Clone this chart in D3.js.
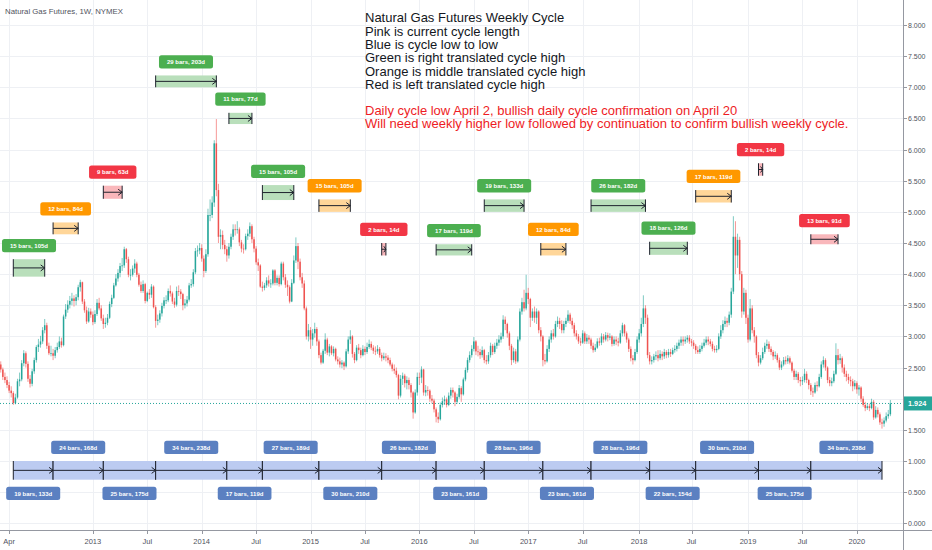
<!DOCTYPE html>
<html><head><meta charset="utf-8">
<script src="https://cdn.jsdelivr.net/npm/d3@7"></script>
<style>
html,body{margin:0;padding:0;background:#fff;}
svg{display:block;font-family:"Liberation Sans",Arial,sans-serif;}
</style></head><body>
<svg id="chart" width="932" height="550"></svg>
<script>
// ---- weekly candles (NYMEX natural gas) ----
const firstOpen = 2.55;
const close2012=[2.47,2.35,2.30,2.22,2.13,2.09,1.93,2.02,2.28,2.31,2.57,2.73,2.56,2.32,2.24,2.44,2.62,2.83,2.87,2.92,3.10,3.18,2.85,2.73,2.73,2.69,2.78,2.83,2.92,2.86,3.32,3.43,3.51,3.57,3.61,3.57,3.63,3.79,3.87,3.56,3.42,3.24,3.40,3.35];
const high2012=[2.60,2.50,2.42,2.36,2.27,2.20,2.12,2.08,2.32,2.42,2.62,2.78,2.76,2.60,2.38,2.48,2.66,2.86,2.96,3.01,3.15,3.28,3.22,2.90,2.85,2.80,2.83,2.90,3.00,2.98,3.35,3.52,3.58,3.65,3.70,3.66,3.68,3.83,3.91,3.88,3.60,3.48,3.46,3.45];
const low2012=[2.42,2.30,2.25,2.17,2.09,2.02,1.90,1.91,2.00,2.20,2.28,2.52,2.50,2.27,2.18,2.20,2.40,2.58,2.75,2.82,2.88,3.05,2.80,2.70,2.68,2.62,2.65,2.74,2.80,2.82,2.84,3.28,3.38,3.45,3.50,3.48,3.50,3.58,3.72,3.52,3.38,3.20,3.22,3.30];
const close2013=[3.23,3.36,3.54,3.45,3.29,3.20,3.22,3.30,3.52,3.62,3.82,3.93,4.02,4.13,4.14,4.40,4.24,3.99,3.99,4.09,4.17,3.99,3.83,3.73,3.84,3.57,3.70,3.67,3.80,3.47,3.25,3.27,3.37,3.49,3.58,3.58,3.73,3.69,3.56,3.51,3.73,3.72,3.68,3.50,3.53,3.59,3.82,3.84,4.03,4.37,4.38,4.42];
const high2013=[3.40,3.42,3.60,3.62,3.50,3.35,3.30,3.36,3.56,3.67,3.86,4.00,4.08,4.18,4.26,4.44,4.42,4.28,4.08,4.14,4.24,4.20,4.02,3.88,3.90,3.86,3.72,3.76,3.84,3.82,3.50,3.35,3.42,3.54,3.63,3.66,3.77,3.82,3.72,3.62,3.80,3.82,3.76,3.70,3.60,3.65,3.86,3.92,4.08,4.42,4.46,4.50];
const low2013=[3.18,3.20,3.33,3.42,3.25,3.12,3.14,3.18,3.28,3.47,3.60,3.80,3.88,3.95,4.05,4.10,4.18,3.95,3.90,3.96,4.02,3.95,3.80,3.70,3.70,3.53,3.55,3.60,3.62,3.45,3.14,3.18,3.22,3.32,3.45,3.52,3.55,3.64,3.52,3.46,3.48,3.65,3.60,3.42,3.45,3.48,3.56,3.78,3.80,4.00,4.28,4.32];
const close2014=[4.25,4.05,4.32,4.95,4.95,5.15,6.10,5.35,4.60,4.63,4.47,4.40,4.30,4.44,4.60,4.72,4.71,4.72,4.51,4.41,4.40,4.61,4.65,4.77,4.56,4.41,4.19,4.14,3.80,3.78,3.82,3.90,3.85,3.85,4.06,3.86,3.94,3.84,4.17,3.95,3.83,3.79,3.56,3.86,4.22,4.45,4.20,3.95,3.85,3.45,3.00,3.10];
const high2014=[4.48,4.30,4.40,5.05,5.20,5.25,6.15,6.49,5.45,4.72,4.70,4.55,4.45,4.50,4.65,4.80,4.80,4.85,4.75,4.55,4.48,4.65,4.72,4.83,4.80,4.60,4.45,4.25,4.16,3.88,3.86,3.95,3.98,3.92,4.08,4.08,3.98,3.98,4.20,4.20,4.00,3.90,3.82,3.92,4.30,4.59,4.50,4.25,4.02,3.90,3.48,3.20];
const low2014=[4.20,3.95,4.02,4.28,4.85,4.90,5.08,5.25,4.50,4.40,4.40,4.32,4.20,4.25,4.40,4.55,4.62,4.65,4.45,4.35,4.33,4.38,4.55,4.60,4.50,4.35,4.15,4.05,3.78,3.72,3.74,3.78,3.80,3.78,3.82,3.82,3.82,3.80,3.82,3.90,3.78,3.65,3.53,3.55,3.84,4.18,4.08,3.90,3.78,3.42,2.95,2.92];
const close2015=[2.95,3.05,3.12,2.92,2.70,2.58,2.77,2.95,2.74,2.84,2.73,2.80,2.63,2.60,2.55,2.58,2.52,2.76,2.95,3.00,2.72,2.62,2.82,2.78,2.70,2.80,2.75,2.83,2.88,2.82,2.77,2.76,2.80,2.70,2.65,2.68,2.66,2.62,2.55,2.48,2.45,2.38,2.05,2.32,2.37,2.25,2.30,2.22,2.10,1.78,2.10,2.35];
const high2015=[3.15,3.12,3.22,3.15,2.95,2.74,2.80,3.05,2.98,2.88,2.86,2.84,2.82,2.68,2.66,2.62,2.60,2.80,3.00,3.10,3.02,2.75,2.86,2.88,2.82,2.86,2.84,2.90,2.95,2.92,2.86,2.84,2.86,2.83,2.74,2.74,2.73,2.70,2.66,2.58,2.55,2.50,2.40,2.38,2.42,2.40,2.36,2.34,2.25,2.12,2.15,2.42];
const low2015=[2.80,2.85,2.98,2.85,2.65,2.55,2.56,2.72,2.70,2.68,2.70,2.68,2.60,2.55,2.50,2.49,2.46,2.50,2.72,2.88,2.66,2.57,2.60,2.72,2.65,2.68,2.70,2.72,2.80,2.78,2.72,2.70,2.72,2.66,2.60,2.62,2.60,2.57,2.52,2.44,2.40,2.34,1.99,2.02,2.22,2.18,2.15,2.15,2.02,1.68,1.76,2.05];
const close2016=[2.34,2.47,2.10,2.14,2.13,2.00,1.97,1.83,1.71,1.67,1.90,1.96,1.99,1.90,2.05,2.14,2.10,1.95,2.03,2.17,2.07,2.31,2.46,2.62,2.70,2.80,2.92,2.76,2.75,2.70,2.78,2.62,2.60,2.70,2.85,2.75,2.85,2.90,2.95,3.00,3.27,3.20,3.05,2.85,2.62,2.76,2.60,2.95,3.40,3.55,3.45,3.70,3.60];
const high2016=[2.42,2.52,2.48,2.22,2.20,2.15,2.06,2.00,1.86,1.78,1.94,2.02,2.05,2.02,2.10,2.18,2.18,2.12,2.08,2.22,2.20,2.34,2.50,2.66,2.76,2.86,2.99,2.94,2.85,2.80,2.84,2.80,2.70,2.75,2.90,2.88,2.90,2.96,3.02,3.06,3.34,3.32,3.22,3.08,2.88,2.82,2.80,3.00,3.45,3.62,3.75,3.99,3.78];
const low2016=[2.22,2.25,2.05,2.04,2.05,1.95,1.92,1.78,1.62,1.61,1.65,1.86,1.90,1.86,1.88,2.00,2.02,1.88,1.92,2.00,1.95,2.05,2.28,2.42,2.58,2.66,2.76,2.70,2.68,2.64,2.66,2.57,2.55,2.56,2.66,2.70,2.72,2.80,2.85,2.90,2.96,3.10,2.98,2.78,2.54,2.58,2.56,2.58,2.92,3.35,3.40,3.42,3.52];
const close2017=[3.30,3.40,3.30,3.40,3.10,3.00,2.62,2.60,2.80,2.95,3.05,3.00,3.20,3.25,3.20,3.10,3.20,3.25,3.35,3.25,3.18,3.05,3.00,2.92,2.90,3.05,2.92,2.98,2.95,2.85,2.78,2.82,2.92,2.90,3.00,2.95,3.02,2.98,3.00,2.88,2.95,2.92,2.90,3.05,3.18,3.05,2.95,2.80,2.65,2.62,2.75,2.95];
const high2017=[3.62,3.45,3.48,3.45,3.42,3.15,3.02,2.72,2.86,3.00,3.10,3.12,3.25,3.32,3.30,3.26,3.25,3.30,3.42,3.38,3.30,3.22,3.10,3.04,2.98,3.10,3.08,3.04,3.02,2.98,2.90,2.88,2.97,2.98,3.05,3.04,3.07,3.06,3.05,3.02,3.00,3.00,2.98,3.10,3.22,3.20,3.08,2.98,2.84,2.70,2.80,3.00];
const low2017=[3.15,3.25,3.22,3.20,3.05,2.92,2.52,2.55,2.58,2.75,2.90,2.95,2.98,3.15,3.12,3.05,3.05,3.15,3.22,3.20,3.12,3.00,2.95,2.88,2.85,2.88,2.88,2.88,2.88,2.80,2.74,2.75,2.80,2.85,2.86,2.90,2.92,2.92,2.94,2.84,2.85,2.86,2.84,2.88,3.00,3.00,2.90,2.75,2.60,2.55,2.60,2.72];
const close2018=[3.05,3.20,3.45,3.30,2.70,2.60,2.62,2.68,2.70,2.65,2.72,2.68,2.75,2.70,2.75,2.72,2.78,2.80,2.85,2.90,2.95,2.92,2.95,2.98,2.92,2.90,2.85,2.78,2.75,2.80,2.85,2.90,2.95,2.92,2.88,2.80,2.78,2.80,3.00,3.10,3.20,3.25,3.22,3.35,3.72,4.60,4.30,4.55,4.00,3.40,3.70,3.30];
const high2018=[3.12,3.30,3.66,3.50,3.35,2.75,2.68,2.72,2.76,2.78,2.78,2.76,2.80,2.78,2.80,2.80,2.82,2.86,2.90,2.95,3.00,3.00,3.00,3.02,3.02,2.96,2.94,2.88,2.84,2.86,2.90,2.96,3.00,3.00,2.96,2.92,2.85,2.86,3.05,3.18,3.26,3.32,3.30,3.40,3.78,4.93,4.85,4.65,4.60,4.05,3.78,3.75];
const low2018=[2.90,3.00,3.15,3.20,2.65,2.55,2.55,2.58,2.62,2.60,2.62,2.62,2.64,2.65,2.66,2.67,2.70,2.74,2.76,2.80,2.85,2.85,2.88,2.90,2.88,2.84,2.80,2.72,2.72,2.72,2.76,2.82,2.86,2.86,2.84,2.76,2.74,2.74,2.78,2.96,3.05,3.15,3.15,3.18,3.30,3.68,4.00,4.10,3.90,3.30,3.35,3.20];
const close2019=[2.95,3.45,3.10,3.00,2.70,2.58,2.65,2.75,2.85,2.88,2.80,2.75,2.68,2.70,2.62,2.50,2.55,2.62,2.60,2.65,2.58,2.45,2.35,2.40,2.30,2.28,2.30,2.40,2.30,2.22,2.12,2.10,2.22,2.20,2.35,2.55,2.62,2.50,2.30,2.25,2.28,2.40,2.70,2.62,2.65,2.50,2.40,2.35,2.30,2.28,2.20,2.25];
const high2019=[3.35,3.60,3.50,3.15,3.02,2.75,2.70,2.82,2.90,2.95,2.92,2.84,2.78,2.76,2.73,2.66,2.60,2.67,2.68,2.70,2.68,2.60,2.48,2.45,2.43,2.35,2.36,2.48,2.44,2.32,2.25,2.18,2.26,2.28,2.40,2.60,2.68,2.65,2.52,2.35,2.34,2.45,2.89,2.80,2.72,2.68,2.55,2.45,2.40,2.36,2.32,2.30];
const low2019=[2.90,2.92,3.05,2.90,2.65,2.52,2.55,2.62,2.72,2.80,2.75,2.70,2.62,2.64,2.58,2.46,2.46,2.52,2.55,2.56,2.55,2.42,2.30,2.30,2.25,2.20,2.22,2.26,2.25,2.15,2.06,2.03,2.08,2.12,2.18,2.32,2.50,2.45,2.25,2.20,2.20,2.25,2.38,2.55,2.56,2.42,2.35,2.28,2.24,2.20,2.12,2.15];
const close2020=[2.15,2.18,2.00,1.90,1.85,1.88,1.85,1.95,1.70,1.82,1.75,1.62,1.60,1.65,1.72,1.75,1.924];
const high2020=[2.28,2.22,2.20,2.04,1.95,1.93,1.92,2.00,1.98,1.88,1.86,1.78,1.68,1.70,1.78,1.82,1.98];
const low2020=[2.08,2.05,1.95,1.87,1.80,1.82,1.80,1.83,1.66,1.68,1.70,1.58,1.52,1.55,1.62,1.68,1.72];
const firstWeek = "2012-02-27";
const lastPrice = 1.924;

// ---- axis ticks ----
const priceTicks=[0,0.5,1,1.5,2,2.5,3,3.5,4,4.5,5,5.5,6,6.5,7,7.5,8];
const timeTickDates=["2012-04-01","2013-01-01","2013-07-01","2014-01-01","2014-07-01","2015-01-01","2015-07-01","2016-01-01","2016-07-01","2017-01-01","2017-07-01","2018-01-01","2018-07-01","2019-01-01","2019-07-01","2020-01-01"];
const timeTickLabels=["Apr","2013","Jul","2014","Jul","2015","Jul","2016","Jul","2017","Jul","2018","Jul","2019","Jul","2020"];

// ---- cycle-high range tools (bar index start, length, price band) ----
const topStart=[6,25,49,74,109,125,152,182,208,231,258,282,310,332,362,387];
const topBars=[15,12,9,29,11,15,15,2,17,19,12,26,18,17,2,13];
const topLabels=["15 bars, 105d","12 bars, 84d","9 bars, 63d","29 bars, 203d","11 bars, 77d","15 bars, 105d","15 bars, 105d","2 bars, 14d","17 bars, 119d","19 bars, 133d","12 bars, 84d","26 bars, 182d","18 bars, 126d","17 bars, 119d","2 bars, 14d","13 bars, 91d"];
const topKind=["green","orange","red","green","green","green","orange","red","green","green","orange","green","green","orange","red","red"];
const topHigh=[4.24,4.83,5.42,7.19,6.59,5.43,5.20,4.50,4.48,5.20,4.50,5.20,4.52,5.35,5.78,4.64];
const topLow=[3.96,4.64,5.21,7.00,6.41,5.19,5.00,4.30,4.30,5.00,4.30,5.00,4.31,5.15,5.58,4.48];

// ---- cycle low-to-low ranges ----
const lowIdx=[6,25,49,74,108,125,152,182,208,231,259,282,310,332,362,387,421];
const lowLabels=["19 bars, 133d","24 bars, 168d","25 bars, 175d","34 bars, 238d","17 bars, 119d","27 bars, 189d","30 bars, 210d","26 bars, 182d","23 bars, 161d","28 bars, 196d","23 bars, 161d","28 bars, 196d","22 bars, 154d","30 bars, 210d","25 bars, 175d","34 bars, 238d"];
const lowBand=[1.0,0.7];

// ---- notes ----
const title="Natural Gas Futures, 1W, NYMEX";
const noteBlack=["Natural Gas Futures Weekly Cycle","Pink is current cycle length","Blue is cycle low to low","Green is right translated cycle high","Orange is middle translated cycle high","Red is left translated cycle high"];
const noteRed=["Daily cycle low April 2, bullish daily cycle confirmation on April 20","Will need weekly higher low followed by continuation to confirm bullish weekly cycle."];

// ================= drawing =================
const closes=[].concat(close2012,close2013,close2014,close2015,close2016,close2017,close2018,close2019,close2020);
const highs=[].concat(high2012,high2013,high2014,high2015,high2016,high2017,high2018,high2019,high2020);
const lows=[].concat(low2012,low2013,low2014,low2015,low2016,low2017,low2018,low2019,low2020);
const start=new Date(firstWeek+"T00:00:00Z");
const dates=closes.map((_,i)=>d3.utcDay.offset(start,7*i));
const bars=closes.map((c,i)=>({d:dates[i],o:i?closes[i-1]:firstOpen,c:c,h:highs[i],l:lows[i]}));

const PR=903, PB=530, STEP=2.0932, X0=0.75;
const x=d3.scaleUtc().domain([dates[0],dates[dates.length-1]]).range([X0,X0+(dates.length-1)*STEP]);
const y=d3.scaleLinear().domain([0,8]).range([523.3,25]);
const xi=i=>x(d3.utcDay.offset(start,7*i));

const svg=d3.select("#chart");
svg.append("rect").attr("width",932).attr("height",550).attr("fill","#fff");
svg.append("defs").append("clipPath").attr("id","plot").append("rect").attr("x",0).attr("y",0).attr("width",PR).attr("height",PB);

const grid=svg.append("g");
grid.selectAll("line.h").data(priceTicks).join("line")
  .attr("x1",0).attr("x2",PR).attr("y1",d=>Math.round(y(d))+0.5).attr("y2",d=>Math.round(y(d))+0.5)
  .attr("stroke","#eef0f4").attr("stroke-width",1);
const tickX=timeTickDates.map(s=>x(d3.utcMonday.floor(new Date(s+"T00:00:00Z"))));
grid.selectAll("line.v").data(tickX).join("line")
  .attr("x1",d=>Math.round(d)+0.5).attr("x2",d=>Math.round(d)+0.5).attr("y1",0).attr("y2",PB)
  .attr("stroke","#eef0f4").attr("stroke-width",1);

const plot=svg.append("g").attr("clip-path","url(#plot)");

// candles
const UP="#26a69a", DN="#ef5350";
const cg=plot.append("g");
cg.selectAll("line").data(bars).join("line")
  .attr("x1",d=>x(d.d)).attr("x2",d=>x(d.d)).attr("y1",d=>y(d.h)).attr("y2",d=>y(d.l))
  .attr("stroke",d=>d.c>=d.o?UP:DN).attr("stroke-width",0.8).attr("stroke-opacity",0.75);
cg.selectAll("rect").data(bars).join("rect")
  .attr("x",d=>x(d.d)-0.75).attr("width",1.5)
  .attr("y",d=>y(Math.max(d.o,d.c))).attr("height",d=>Math.max(0.8,Math.abs(y(d.o)-y(d.c))))
  .attr("fill",d=>d.c>=d.o?UP:DN);

// last price line
plot.append("line").attr("x1",0).attr("x2",PR).attr("y1",y(lastPrice)).attr("y2",y(lastPrice))
  .attr("stroke",UP).attr("stroke-width",1).attr("stroke-dasharray","1,2");

// range tool helper
const kinds={green:{box:"#4caf50",fill:"#b9dfbb"},orange:{box:"#ff9800",fill:"#ffd699"},red:{box:"#f23645",fill:"#f9b7bb"},blue:{box:"#5b80c1",fill:"#bccbf1"}};
const LINE="#1e222d";
function rangeTool(g,s,e,pHi,pLo,kind){
  const X1=xi(s), X2=xi(e), Y1=y(pHi), Y2=y(pLo), ym=(Y1+Y2)/2;
  g.append("rect").attr("x",X1).attr("y",Y1).attr("width",X2-X1).attr("height",Y2-Y1).attr("fill",kinds[kind].fill);
  g.append("line").attr("x1",X1).attr("x2",X1).attr("y1",Y1).attr("y2",Y2).attr("stroke",LINE).attr("stroke-width",1);
  g.append("line").attr("x1",X2).attr("x2",X2).attr("y1",Y1).attr("y2",Y2).attr("stroke",LINE).attr("stroke-width",1);
  g.append("line").attr("x1",X1).attr("x2",X2).attr("y1",ym).attr("y2",ym).attr("stroke",LINE).attr("stroke-width",1);
  const a=Math.min(4,(X2-X1)/2);
  g.append("path").attr("d",`M${X2-a},${ym-3}L${X2},${ym}L${X2-a},${ym+3}`).attr("fill","none").attr("stroke",LINE).attr("stroke-width",1);
}
function labelBox(g,cx,yTop,text,kind){
  const t=g.append("text").attr("x",cx).attr("y",yTop+8.9).attr("text-anchor","middle")
    .attr("font-size",6).attr("font-weight","bold").attr("fill","#fff").text(text);
  const w=t.node().getComputedTextLength()+16;
  g.insert("rect","text:last-child").attr("x",cx-w/2).attr("y",yTop).attr("width",w).attr("height",13.3).attr("rx",2.5).attr("fill",kinds[kind].box);
}

const tg=svg.append("g");
topStart.forEach((s,k)=>{
  const g=tg.append("g");
  const e=s+topBars[k];
  rangeTool(g,s,e,topHigh[k],topLow[k],topKind[k]);
  labelBox(g,(xi(s)+xi(e))/2,y(topHigh[k])-7-13.3,topLabels[k],topKind[k]);
});

const bg=svg.append("g");
lowLabels.forEach((lab,k)=>{
  const g=bg.append("g");
  const s=lowIdx[k], e=lowIdx[k+1];
  rangeTool(g,s,e,lowBand[0],lowBand[1],"blue");
});
lowLabels.forEach((lab,k)=>{
  const s=lowIdx[k], e=lowIdx[k+1];
  const cx=(xi(s)+xi(e))/2;
  const yTop = (k%2===0) ? y(lowBand[1])+7 : y(lowBand[0])-7-13.3;
  labelBox(bg.append("g"),cx,yTop,lab,"blue");
});

// notes
svg.append("text").attr("x",5).attr("y",14).attr("font-size",7.8).attr("fill","#50535e").text(title);
const nb=svg.append("g").attr("font-size",13);
noteBlack.forEach((t,k)=>nb.append("text").attr("x",365).attr("y",22.3+13.35*k).attr("fill","#131722").text(t));
noteRed.forEach((t,k)=>nb.append("text").attr("x",365).attr("y",115+13.3*k).attr("fill","#ee1c25").text(t));

// axes
const AX="#9598a1";
const ly=y(lastPrice);
svg.append("line").attr("x1",PR+0.5).attr("x2",PR+0.5).attr("y1",0).attr("y2",550).attr("stroke",AX);
svg.append("line").attr("x1",0).attr("x2",932).attr("y1",PB+0.5).attr("y2",PB+0.5).attr("stroke",AX);
const ya=svg.append("g");
priceTicks.forEach(v=>{
  const yy=Math.round(y(v))+0.5;
  ya.append("line").attr("x1",PR).attr("x2",PR+4).attr("y1",yy).attr("y2",yy).attr("stroke",AX);
  if (Math.abs(yy-ly) > 11) // hidden under the last-price label, as in the reference
    ya.append("text").attr("x",908).attr("y",yy+2.5).attr("font-size",7).attr("fill","#50535e").text(d3.format(".3f")(v));
});
const xa=svg.append("g");
tickX.forEach((xx,k)=>{
  xa.append("line").attr("x1",Math.round(xx)+0.5).attr("x2",Math.round(xx)+0.5).attr("y1",PB).attr("y2",PB+4).attr("stroke",AX);
  xa.append("text").attr("x",xx).attr("y",543.5).attr("text-anchor","middle").attr("font-size",7.5).attr("fill","#50535e").text(timeTickLabels[k]);
});
// last price label
svg.append("rect").attr("x",PR+1).attr("y",ly-7).attr("width",29).attr("height",14).attr("fill",UP);
svg.append("text").attr("x",908).attr("y",ly+2.6).attr("font-size",7.3).attr("font-weight","bold").attr("fill","#fff").text(d3.format(".3f")(lastPrice));
</script>
</body></html>
